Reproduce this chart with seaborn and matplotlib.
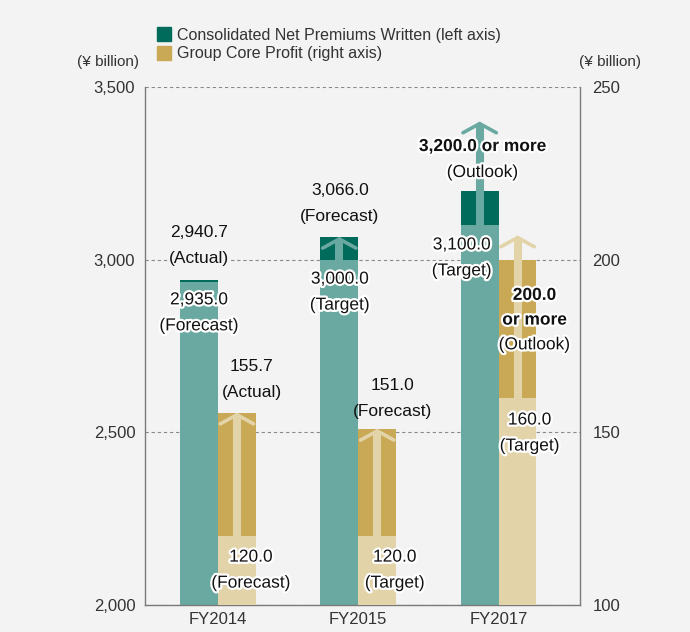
import numpy as np
import pandas as pd
import matplotlib
matplotlib.use('Agg')
import matplotlib.pyplot as plt
import matplotlib.patheffects as pe
from matplotlib.patches import Patch
import seaborn as sns

# data
years = ['FY2014', 'FY2015', 'FY2017']
premium_base = [2935.0, 3000.0, 3100.0]      # light teal part
premium_total = [2940.7, 3066.0, 3200.0]     # dark teal top
premium_arrow_tip = [np.nan, 3066.0, 3400.0]
profit_base = [120.0, 120.0, 160.0]          # light gold part
profit_total = [155.7, 151.0, 200.0]         # dark gold top
profit_arrow_tip = [155.7, 151.0, 207.0]

BG = '#f3f3f3'
DARK_TEAL = '#006b5b'
LIGHT_TEAL = '#6aa9a1'
DARK_GOLD = '#c9a955'
LIGHT_GOLD = '#e3d3a9'
TXT = '#111111'
GREY = '#333333'

sns.set_theme(style='white')
plt.rcParams['font.family'] = ['Liberation Sans', 'DejaVu Sans']

pos = np.arange(len(years))
off = 0.135
w = 0.27
df = pd.DataFrame({
    'x_prem': pos - off, 'x_prof': pos + off,
    'premium_base': premium_base, 'premium_total': premium_total,
    'profit_base': profit_base, 'profit_total': profit_total,
})

fig = plt.figure(figsize=(6.9, 6.32), dpi=100, facecolor=BG)
ax = fig.add_axes([145 / 690, 1 - 605 / 632, 435 / 690, 518 / 632])
ax.set_facecolor(BG)
ax2 = ax.twinx()

bar_kw = dict(native_scale=True, width=w, saturation=1, errorbar=None,
              linewidth=0, edgecolor='none')
# teal bars (left axis)
sns.barplot(data=df, x='x_prem', y='premium_total', color=DARK_TEAL, ax=ax, **bar_kw)
sns.barplot(data=df, x='x_prem', y='premium_base', color=LIGHT_TEAL, ax=ax, **bar_kw)
# gold bars (right axis)
sns.barplot(data=df, x='x_prof', y='profit_total', color=DARK_GOLD, ax=ax2, **bar_kw)
sns.barplot(data=df, x='x_prof', y='profit_base', color=LIGHT_GOLD, ax=ax2, **bar_kw)

ax.set_ylim(2000, 3500)
ax2.set_ylim(100, 250)
ax.set_xlim(-0.52, 2.58)


def arrow(axis, x, y0, y1, color):
    if np.isnan(y1):
        return
    lo, hi = axis.get_ylim()
    unit = (hi - lo) / 518.0  # data units per pixel
    axis.plot([x, x], [y0, y1 - 3 * unit], color=color, lw=5.8, solid_capstyle='butt', zorder=4)
    axis.annotate('', xy=(x, y1), xytext=(x, y0),
                  arrowprops=dict(arrowstyle='->,head_length=0.55,head_width=1.0',
                                  lw=2.6, color=color, shrinkA=0, shrinkB=0),
                  zorder=5)


for i in range(len(years)):
    arrow(ax, pos[i] - off, premium_base[i], premium_arrow_tip[i], LIGHT_TEAL)
    arrow(ax2, pos[i] + off, profit_base[i], profit_arrow_tip[i], LIGHT_GOLD)

# grid and axes styling
ax.set_yticks([2000, 2500, 3000, 3500])
ax.set_yticklabels(['2,000', '2,500', '3,000', '3,500'])
ax2.set_yticks([100, 150, 200, 250])
ax.yaxis.grid(True, linestyle=(0, (3, 2.5)), color='#8a8a8a', lw=0.8)
ax.xaxis.grid(False)
ax2.grid(False)
ax.set_axisbelow(True)
ax.set_xticks(pos)
ax.set_xticklabels(years)
for a in (ax, ax2):
    a.set_xlabel('')
    a.set_ylabel('')
ax.tick_params(axis='y', length=0, pad=7, labelsize=12, labelcolor=GREY)
ax.tick_params(axis='x', length=0, pad=5, labelsize=12, labelcolor=GREY)
ax2.tick_params(axis='y', length=0, pad=9, labelsize=12, labelcolor=GREY)
for s in ('top', 'right'):
    ax.spines[s].set_visible(False)
for s in ('top', 'left', 'bottom'):
    ax2.spines[s].set_visible(False)
for s in ('left', 'bottom'):
    ax.spines[s].set_color('#7a7a7a')
    ax.spines[s].set_linewidth(1.0)
ax2.spines['right'].set_color('#7a7a7a')
ax2.spines['right'].set_linewidth(1.0)

# value labels
halo = [pe.withStroke(linewidth=3.2, foreground='white')]
LINE = 18.7  # points between lines


def label(axis, x, y, lines, with_halo=False, box=False, step=LINE):
    n = len(lines)
    for k, (txt, wt) in enumerate(lines):
        dy = ((n - 1) / 2 - k) * step
        t = ax2.annotate(txt, xy=(x, y), xycoords=axis.transData, xytext=(0, dy),
                         textcoords='offset points', ha='center', va='center',
                         fontsize=12.5, color=TXT, fontweight=wt, zorder=10)
        if with_halo:
            t.set_path_effects(halo)
        if box:
            t.set_bbox(dict(facecolor=BG, edgecolor='none', pad=0.5))


N, B = 'normal', 'bold'
label(ax, -0.135, 3040, [('2,940.7', N), ('(Actual)', N)], box=True)
label(ax, -0.135, 2846, [('2,935.0', N), ('(Forecast)', N)], with_halo=True)
label(ax2, 0.24, 165.4, [('155.7', N), ('(Actual)', N)])
label(ax2, 0.235, 110.1, [('120.0', N), ('(Forecast)', N)], with_halo=True)
label(ax, 0.868, 3164, [('3,066.0', N), ('(Forecast)', N)])
label(ax, 0.868, 2906, [('3,000.0', N), ('(Target)', N)], with_halo=True)
label(ax2, 1.246, 159.9, [('151.0', N), ('(Forecast)', N)])
label(ax2, 1.26, 110.1, [('120.0', N), ('(Target)', N)], with_halo=True)
label(ax, 1.886, 3290, [('3,200.0 or more', B), ('(Outlook)', N)], with_halo=True)
label(ax, 1.737, 3005, [('3,100.0', N), ('(Target)', N)], with_halo=True)
label(ax2, 2.256, 182.5, [('200.0', B), ('or more', B), ('(Outlook)', N)],
      with_halo=True, step=17.8)
label(ax2, 2.221, 149.8, [('160.0', N), ('(Target)', N)], with_halo=True)

# units and legend
fig.text(108 / 690, 1 - 62 / 632, '(¥ billion)', ha='center', va='center', fontsize=11, color=GREY)
fig.text(610 / 690, 1 - 62 / 632, '(¥ billion)', ha='center', va='center', fontsize=11, color=GREY)
handles = [Patch(color=DARK_TEAL, label='Consolidated Net Premiums Written (left axis)'),
           Patch(color=DARK_GOLD, label='Group Core Profit (right axis)')]
leg = fig.legend(handles=handles, loc='upper left', bbox_to_anchor=(157 / 690, 1 - 27 / 632),
                 frameon=False, fontsize=11.5, handlelength=0.85, handleheight=1.0,
                 handletextpad=0.4, labelspacing=0.2, borderpad=0, borderaxespad=0)
for t in leg.get_texts():
    t.set_color(GREY)

fig.savefig('out.png', dpi=100, facecolor=BG)
